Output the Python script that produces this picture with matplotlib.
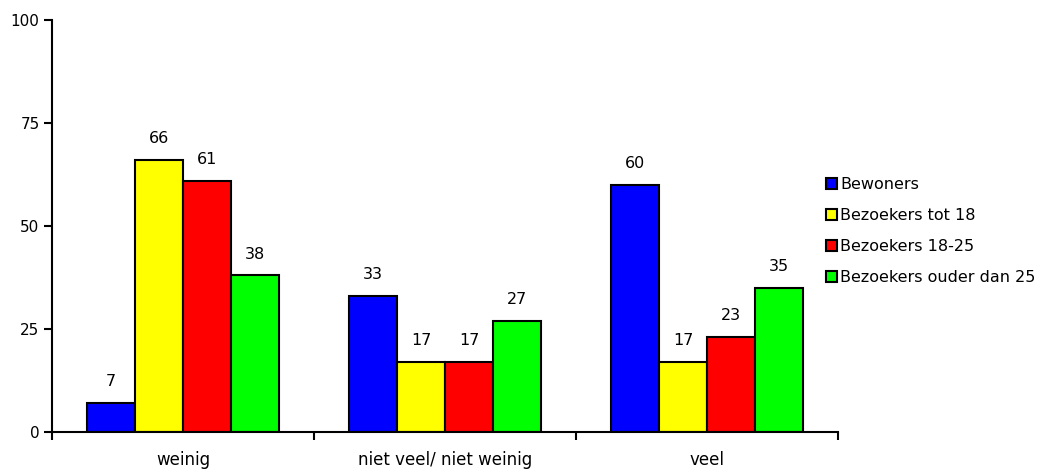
import numpy as np
import matplotlib
matplotlib.use('Agg')
import matplotlib.pyplot as plt
from matplotlib.patches import Patch

categories = ['weinig', 'niet veel/ niet weinig', 'veel']
series = ['Bewoners', 'Bezoekers tot 18', 'Bezoekers 18-25', 'Bezoekers ouder dan 25']
bewoners = [7, 33, 60]
tot18 = [66, 17, 17]
tot25 = [61, 17, 23]
ouder25 = [38, 27, 35]
values = [bewoners, tot18, tot25, ouder25]
colors = ['#0000ff', '#ffff00', '#ff0000', '#00ff00']

plt.rcParams['font.family'] = ['Verdana', 'DejaVu Sans']
fig = plt.figure(figsize=(10.43, 4.71), dpi=100)
ax = fig.add_axes([0.0499, 0.0828, 0.7536, 0.8747])

x = np.arange(len(categories))
w = 0.183
for i, (vals, c) in enumerate(zip(values, colors)):
    pos = x + (i - 1.5) * w
    ax.bar(pos, vals, w, color=c, edgecolor='black', linewidth=1.5, label=series[i])
    for p, v in zip(pos, vals):
        ax.annotate(str(v), (p, v), xytext=(0, 10), textcoords='offset points',
                    ha='center', va='bottom', fontsize=11.5)

ax.set_xlim(-0.5, 2.5)
ax.set_ylim(0, 100)
ax.set_yticks([0, 25, 50, 75, 100])
ax.tick_params(axis='y', labelsize=11, length=6, width=1.5, direction='out', pad=3)
ax.set_xticks(x)
ax.set_xticklabels(categories, fontsize=12)
ax.tick_params(axis='x', which='major', length=0, pad=14)
ax.set_xticks([-0.5, 0.5, 1.5, 2.5], minor=True)
ax.tick_params(axis='x', which='minor', length=6, width=1.5, direction='out')
for s in ['top', 'right']:
    ax.spines[s].set_visible(False)
for s in ['left', 'bottom']:
    ax.spines[s].set_linewidth(1.5)

handles = [Patch(facecolor=c, edgecolor='black', linewidth=1.5, label=s) for c, s in zip(colors, series)]
fig.legend(handles=handles, loc='center left', bbox_to_anchor=(0.778, 0.51), frameon=False,
           fontsize=11.5, handlelength=0.7, handleheight=0.7, handletextpad=0.2, labelspacing=1.0)

fig.savefig('out.png', dpi=100)
